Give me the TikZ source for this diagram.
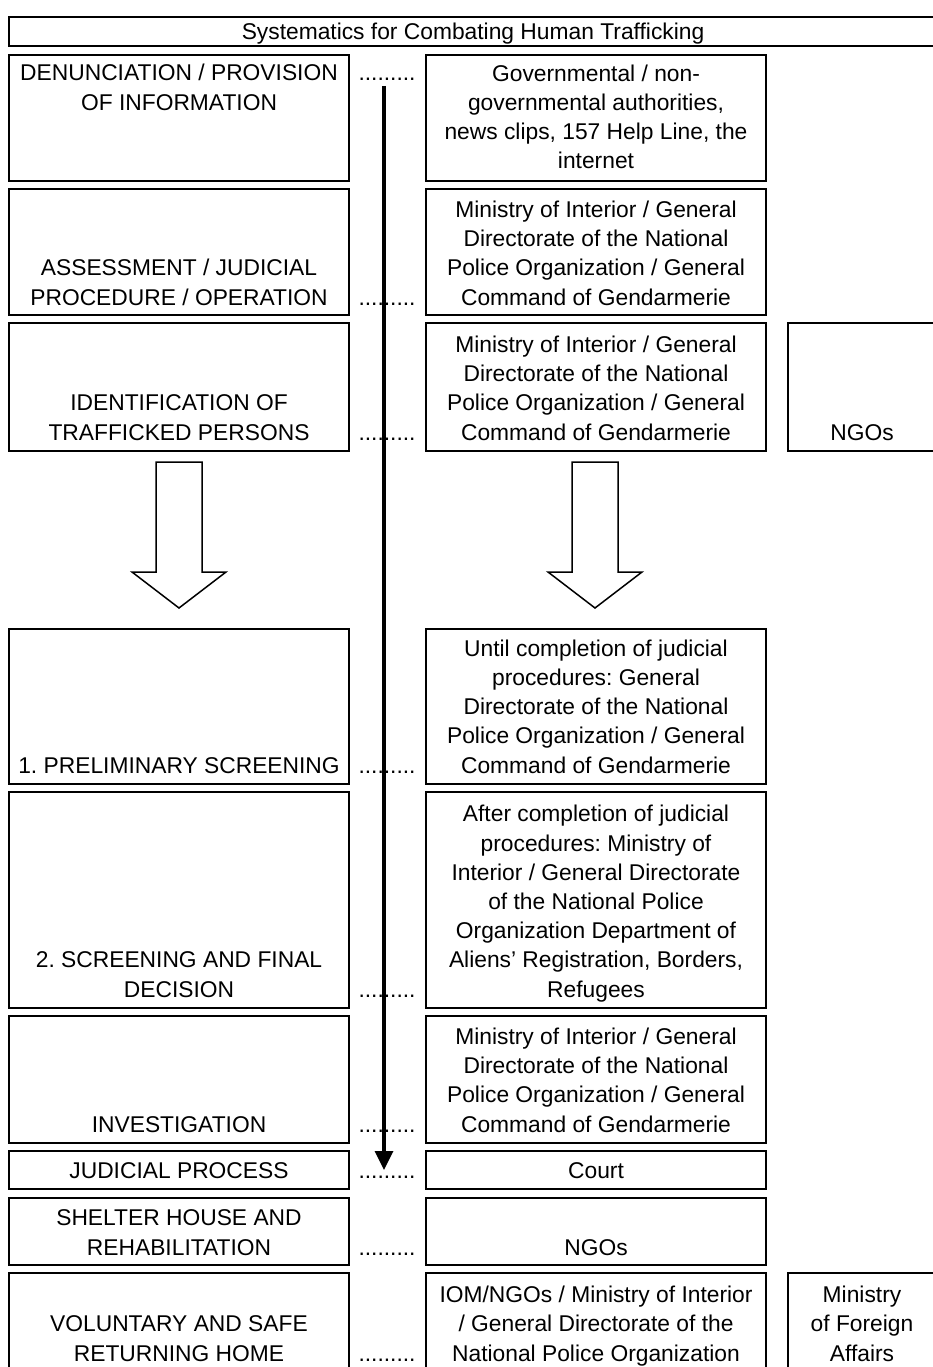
\documentclass[tikz,border=0pt]{standalone}
\usepackage{fontspec}
\setmainfont{Liberation Sans}
\usetikzlibrary{arrows.meta}
\frenchspacing
\newcommand{\ctext}[2][b]{\parbox[#1]{440pt}{\centering #2}}
\tikzset{
  cellbox/.style={draw=black, line width=1.6pt, inner sep=0pt, outer sep=0pt},
  txt/.style={anchor=base, inner sep=0pt, outer sep=0pt, text=black,
    font=\fontsize{22.8}{29.2}\selectfont},
  blockarrow/.style={draw=black, line width=1.5pt, fill=white, line join=miter},
  longarrow/.style={draw=black, line width=3.4pt, -{Triangle[width=18pt,length=19pt]}}
}
\begin{document}
\begin{tikzpicture}[x=1pt,y=-1pt]
\useasboundingbox (0,0) rectangle (933,1367);
\clip (0,0) rectangle (933,1367);
% title
\node[cellbox, minimum width=928pt, minimum height=29pt] (title) at (473,31.5) {};
\node[txt] (titlet) at (473,39.5) {Systematics for Combating Human Trafficking};
% boxes
\node[cellbox, minimum width=340pt, minimum height=126pt] (L1) at (179,118) {};
\node[cellbox, minimum width=340pt, minimum height=126pt] (R1) at (596,118) {};
\node[cellbox, minimum width=340pt, minimum height=126pt] (L2) at (179,252) {};
\node[cellbox, minimum width=340pt, minimum height=126pt] (R2) at (596,252) {};
\node[cellbox, minimum width=340pt, minimum height=128pt] (L3) at (179,387) {};
\node[cellbox, minimum width=340pt, minimum height=128pt] (R3) at (596,387) {};
\node[cellbox, minimum width=148pt, minimum height=128pt] (N3) at (862,387) {};
\node[cellbox, minimum width=340pt, minimum height=155pt] (L4) at (179,706.5) {};
\node[cellbox, minimum width=340pt, minimum height=155pt] (R4) at (596,706.5) {};
\node[cellbox, minimum width=340pt, minimum height=216pt] (L5) at (179,900) {};
\node[cellbox, minimum width=340pt, minimum height=216pt] (R5) at (596,900) {};
\node[cellbox, minimum width=340pt, minimum height=127pt] (L6) at (179,1079.5) {};
\node[cellbox, minimum width=340pt, minimum height=127pt] (R6) at (596,1079.5) {};
\node[cellbox, minimum width=340pt, minimum height=38pt] (L7) at (179,1170) {};
\node[cellbox, minimum width=340pt, minimum height=38pt] (R7) at (596,1170) {};
\node[cellbox, minimum width=340pt, minimum height=67pt] (L8) at (179,1231.5) {};
\node[cellbox, minimum width=340pt, minimum height=67pt] (R8) at (596,1231.5) {};
\node[cellbox, minimum width=340pt, minimum height=107pt] (L9) at (179,1326.5) {};
\node[cellbox, minimum width=340pt, minimum height=107pt] (R9) at (596,1326.5) {};
\node[cellbox, minimum width=148pt, minimum height=107pt] (N9) at (862,1326.5) {};
% texts
\node[txt] (L1t) at (179,81) {\ctext[t]{DENUNCIATION / PROVISION\\OF INFORMATION}};
\node[txt] (R1t) at (596,169) {\ctext{Governmental / non-\\governmental authorities,\\news clips, 157 Help Line, the\\internet}};
\node[txt] (L2t) at (179,305) {\ctext{ASSESSMENT / JUDICIAL\\PROCEDURE / OPERATION}};
\node[txt] (R2t) at (596,305) {\ctext{Ministry of Interior / General\\Directorate of the National\\Police Organization / General\\Command of Gendarmerie}};
\node[txt] (L3t) at (179,440) {\ctext{IDENTIFICATION OF\\TRAFFICKED PERSONS}};
\node[txt] (R3t) at (596,440) {\ctext{Ministry of Interior / General\\Directorate of the National\\Police Organization / General\\Command of Gendarmerie}};
\node[txt] (N3t) at (862,440) {NGOs};
\node[txt] (L4t) at (179,773) {\ctext{1. PRELIMINARY SCREENING}};
\node[txt] (R4t) at (596,773) {\ctext{Until completion of judicial\\procedures: General\\Directorate of the National\\Police Organization / General\\Command of Gendarmerie}};
\node[txt] (L5t) at (179,997) {\ctext{2. SCREENING AND FINAL\\DECISION}};
\node[txt] (R5t) at (596,997) {\ctext{After completion of judicial\\procedures: Ministry of\\Interior / General Directorate\\of the National Police\\Organization Department of\\Aliens’ Registration, Borders,\\Refugees}};
\node[txt] (L6t) at (179,1132) {\ctext{INVESTIGATION}};
\node[txt] (R6t) at (596,1132) {\ctext{Ministry of Interior / General\\Directorate of the National\\Police Organization / General\\Command of Gendarmerie}};
\node[txt] (L7t) at (179,1178) {JUDICIAL PROCESS};
\node[txt] (R7t) at (596,1178) {Court};
\node[txt] (L8t) at (179,1255) {\ctext{SHELTER HOUSE AND\\REHABILITATION}};
\node[txt] (R8t) at (596,1255) {NGOs};
\node[txt] (L9t) at (179,1361) {\ctext{VOLUNTARY AND SAFE\\RETURNING HOME}};
\node[txt] (R9t) at (596,1361) {\ctext{IOM/NGOs / Ministry of Interior\\/ General Directorate of the\\National Police Organization}};
\node[txt] (N9t) at (862,1361) {\ctext{Ministry\\of Foreign\\Affairs}};
% dots
\node[txt] (d1) at (387,81) {.........};
\node[txt] (d2) at (387,305) {.........};
\node[txt] (d3) at (387,440) {.........};
\node[txt] (d4) at (387,773) {.........};
\node[txt] (d5) at (387,997) {.........};
\node[txt] (d6) at (387,1132) {.........};
\node[txt] (d7) at (387,1178) {.........};
\node[txt] (d8) at (387,1255) {.........};
\node[txt] (d9) at (387,1361) {.........};
% block arrows
\draw[blockarrow] (156,462) -- (202,462) -- (202,572) -- (226,572) -- (179,608) -- (132,572) -- (156,572) -- cycle;
\draw[blockarrow] (572,462) -- (618,462) -- (618,572) -- (642,572) -- (595,608) -- (548,572) -- (572,572) -- cycle;
% long arrow
\coordinate (atop) at (384,86);
\coordinate (abot) at (384,1170);
\draw[longarrow] (atop) -- (abot);
\end{tikzpicture}
\end{document}
